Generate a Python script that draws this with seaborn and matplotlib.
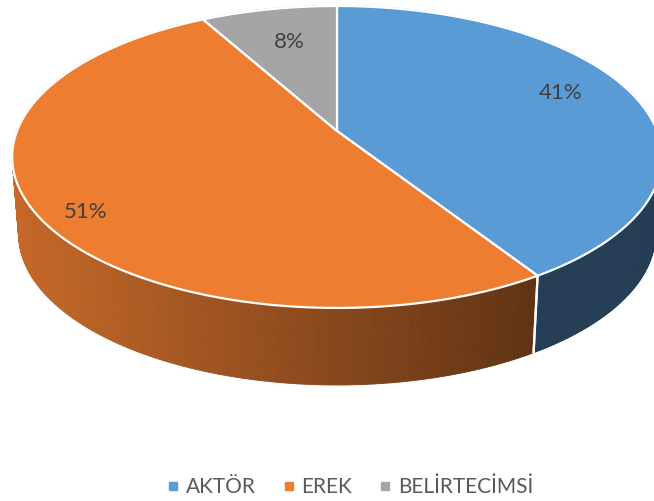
import numpy as np
import matplotlib
matplotlib.use("Agg")
import matplotlib.pyplot as plt
import seaborn as sns
from matplotlib.patches import Polygon
from matplotlib.lines import Line2D
from matplotlib.colors import to_rgb

# ---- data ----
categories = ["AKTÖR", "EREK", "BELİRTECİMSİ"]
values = [41, 51, 8]
labels = [f"{v}%" for v in values]
colors = ["#5B9BD5", "#ED7D31", "#A5A5A5"]

# ---- style ----
sns.set_theme(style="white")
plt.rcParams['font.family'] = ['Lato', 'DejaVu Sans']
TEXT_COLOR = "#404040"
LEGEND_COLOR = "#595959"

# geometry of the perspective pie (pixel space)
CX, CY = 337.0, 131.0
SX, SY = 320.0, 146.5
K = 0.172
DEPTH = 77.0
BSCALE = 0.98
X_LEFT, X_RIGHT = 18.0, 545.0
F_LEFT, F_RIGHT = 0.83, 0.40

fig = plt.figure(figsize=(6.54, 5.01), dpi=100)
ax = fig.add_axes([0, 0, 1, 1])
ax.set_xlim(0, 654)
ax.set_ylim(501, 0)
ax.axis("off")


def rim(t, depth=0.0, rho=1.0):
    r = np.radians(np.asarray(t, dtype=float))
    c = np.cos(r) * rho
    s = np.sin(r) * rho
    den = 1 + K * s
    scale = 1 - (1 - BSCALE) * depth / DEPTH
    x = CX + SX * c / den * scale
    y = CY - SY * s / den + depth
    return x, y


def shade(base, x):
    f = F_LEFT + (F_RIGHT - F_LEFT) * (x - X_LEFT) / (X_RIGHT - X_LEFT)
    f = float(np.clip(f, F_RIGHT, F_LEFT))
    return tuple(ch * f for ch in to_rgb(base))


total = float(sum(values))
fracs = [v / total for v in values]
ranges = []
start = 90.0
for f in fracs:
    end = start - f * 360.0
    ranges.append((end, start))
    start = end

asn = np.degrees(np.arcsin(K))
VL, VR = 180 + asn, 360 - asn

# ---- side walls ----
for (a, b), col in zip(ranges, colors):
    for shift in (-360, 0, 360):
        lo, hi = max(a + shift, VL), min(b + shift, VR)
        if hi <= lo:
            continue
        ts = np.linspace(lo, hi, max(int((hi - lo) * 2), 2))
        for t0, t1 in zip(ts[:-1], ts[1:]):
            x0, y0 = rim(t0)
            x1, y1 = rim(t1)
            bx0, by0 = rim(t0, DEPTH)
            bx1, by1 = rim(t1, DEPTH)
            c = shade(col, (x0 + x1) / 2)
            ax.add_patch(Polygon([(x0, y0), (x1, y1), (bx1, by1), (bx0, by0)],
                                 closed=True, facecolor=c, edgecolor=c,
                                 linewidth=0.6, zorder=1))

# white seams on the side wall at slice boundaries
for (a, b) in ranges:
    for edge in (a, b):
        for shift in (-360, 0, 360):
            t = edge + shift
            if VL < t < VR:
                x0, y0 = rim(t)
                x1, y1 = rim(t, DEPTH)
                ax.plot([x0, x1], [y0, y1], color="white", lw=1.6, zorder=2)

# faint outer silhouette
tb = np.linspace(VL, VR, 300)
bx, by = rim(tb, DEPTH)
ax.plot(bx, by, color="#cfcfcf", lw=0.9, zorder=0.5)
tt = np.linspace(VR - 360, VL, 400)
tx, ty = rim(tt)
ax.plot(tx, ty, color="#d5d5d5", lw=1.6, zorder=0.5)
for t in (VL, VR):
    x0, y0 = rim(t)
    x1, y1 = rim(t, DEPTH)
    ax.plot([x0, x1], [y0, y1], color="#d0d0d0", lw=0.9, zorder=0.5)

# ---- top face ----
for (a, b), col in zip(ranges, colors):
    ts = np.linspace(a, b, 200)
    xs, ys = rim(ts)
    pts = [(CX, CY)] + list(zip(xs, ys))
    ax.add_patch(Polygon(pts, closed=True, facecolor=col, edgecolor="white",
                         linewidth=1.6, joinstyle="round", zorder=3))

# ---- data labels ----
label_rho = 0.8
label_nudge = [(-13, -7), (-14, 17), (8, 11)]
for (a, b), lab, (dx, dy) in zip(ranges, labels, label_nudge):
    lx, ly = rim((a + b) / 2, rho=label_rho)
    ax.text(lx + dx, ly + dy, lab, ha="center", va="center",
            fontsize=16, color=TEXT_COLOR, zorder=5)

# ---- legend ----
handles = [Line2D([0], [0], marker="s", linestyle="none", markersize=6,
                  markerfacecolor=c, markeredgecolor=c) for c in colors]
leg = fig.legend(handles, categories, loc="center", ncol=3,
                 bbox_to_anchor=(350 / 654, 1 - 487 / 501), frameon=False,
                 fontsize=15, handlelength=0.6, handletextpad=0.3,
                 columnspacing=1.3, borderaxespad=0)
for txt in leg.get_texts():
    txt.set_color(LEGEND_COLOR)

fig.savefig("out.png", dpi=100)
